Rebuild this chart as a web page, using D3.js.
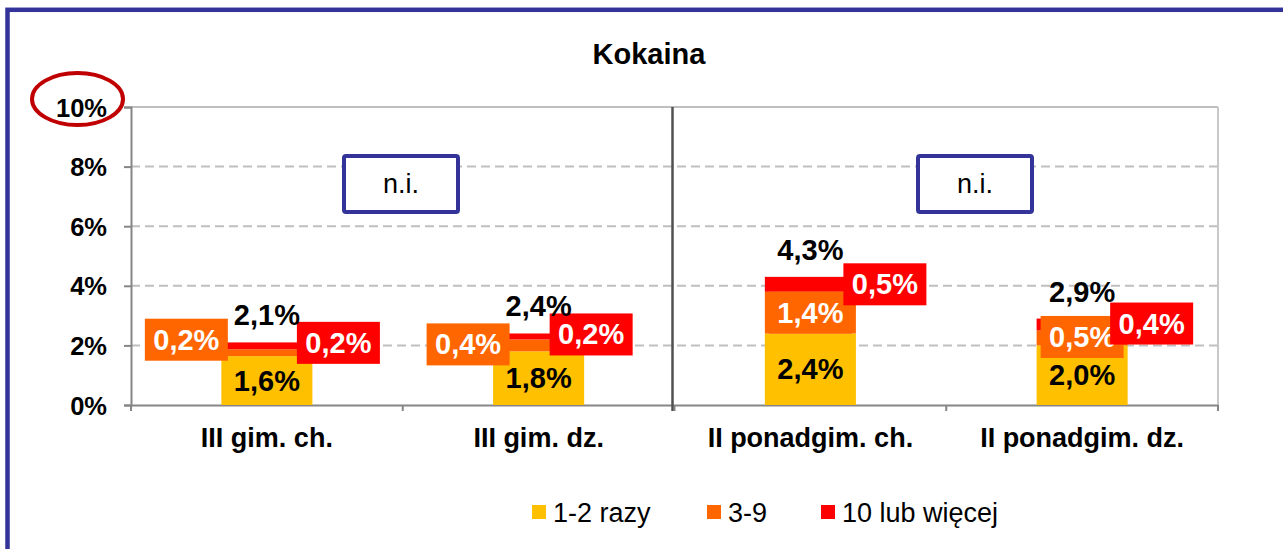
<!DOCTYPE html>
<html lang="pl">
<head>
<meta charset="utf-8">
<title>Kokaina</title>
<script src="https://cdn.jsdelivr.net/npm/d3@7"></script>
<style>
  html, body { margin: 0; padding: 0; background: #fff; }
  svg { display: block; }
  text { font-family: "Liberation Sans", Arial, sans-serif; }
</style>
</head>
<body>
<svg id="chart" width="1283" height="549"></svg>
<script>
// ---- data ----
const categories = ["III gim. ch.", "III gim. dz.", "II ponadgim. ch.", "II ponadgim. dz."];
const seriesNames = ["1-2 razy", "3-9", "10 lub więcej"];
const once12 = [1.64, 1.8, 2.4, 2.0];      // 1-2 razy
const times39 = [0.23, 0.4, 1.4, 0.5];     // 3-9
const times10 = [0.23, 0.2, 0.5, 0.4];     // 10 lub więcej
const yTicks = [0, 2, 4, 6, 8, 10];
const titleText = "Kokaina";
const noteText = "n.i.";

// ---- layout ----
const W = 1283, H = 549;
const plot = { left: 131, right: 1218, top: 107, bottom: 405 };
const colors = ["#FFC000", "#FF6600", "#FF0000"];
const frameBlue = "#333399";
const font = "'Liberation Sans', Arial, sans-serif";
// hand-placed data label boxes (relative to the bar / segment)
const midLabelPos = [
  { anchor: "left", dx: -35, dy: -13 },
  { anchor: "left", dx: -25, dy: -1 },
  { anchor: "mid", dx: 0, dy: 0 },
  { anchor: "mid", dx: 0, dy: -1 }
];
const topLabelPos = [
  { dx: 26, dy: -3 },
  { dx: 7, dy: -2 },
  { dx: 29, dy: 0 },
  { dx: 24, dy: -1 }
];
const noteBoxes = [{ cx: 401, cy: 184 }, { cx: 975, cy: 184 }];
const legendX = [532, 707, 821];

const svg = d3.select("#chart");

// rows for stacking
const rows = categories.map((c, i) => ({
  cat: c, s0: once12[i], s1: times39[i], s2: times10[i]
}));
const stack = d3.stack().keys(["s0", "s1", "s2"])(rows);

const xGroup = d3.scaleBand().domain(categories).range([plot.left, plot.right]);
const x = d3.scaleBand().domain(categories).range([plot.left, plot.right])
  .paddingInner(0.665).paddingOuter(0.3325);
const y = d3.scaleLinear().domain([0, 10]).range([plot.bottom, plot.top]);

const fmt = v => v.toFixed(1).replace(".", ",") + "%";

// outer frame
svg.append("rect")
  .attr("x", 7.5).attr("y", 9.8)
  .attr("width", W + 200).attr("height", H + 200)
  .attr("fill", "none").attr("stroke", frameBlue).attr("stroke-width", 4.5);

// title
svg.append("text")
  .attr("x", 649).attr("y", 54)
  .attr("text-anchor", "middle").attr("dominant-baseline", "central")
  .attr("font-size", 29).attr("font-weight", "bold").attr("fill", "#000")
  .text(titleText);

// gridlines
svg.append("g").selectAll("line")
  .data(yTicks.filter(d => d > 0))
  .join("line")
  .attr("x1", plot.left).attr("x2", plot.right)
  .attr("y1", d => y(d)).attr("y2", d => y(d))
  .attr("stroke", "#BFBFBF").attr("stroke-width", 2)
  .attr("stroke-dasharray", d => d === 10 ? null : "9,5");

// right plot border
svg.append("line")
  .attr("x1", plot.right).attr("x2", plot.right)
  .attr("y1", plot.top).attr("y2", plot.bottom)
  .attr("stroke", "#C8C8C8").attr("stroke-width", 2);

// y axis
const yAxis = svg.append("g")
  .attr("transform", `translate(${plot.left},0)`)
  .call(d3.axisLeft(y).tickValues(yTicks).tickFormat(d => d + "%").tickSize(7).tickPadding(17));
yAxis.select(".domain").attr("stroke", "#868686").attr("stroke-width", 2);
yAxis.selectAll(".tick line").attr("stroke", "#868686").attr("stroke-width", 2);
yAxis.selectAll(".tick text")
  .attr("font-family", font).attr("font-size", 25.5).attr("font-weight", "bold")
  .attr("fill", "#000").attr("dy", "0.36em");

// x axis
const xAxis = svg.append("g")
  .attr("transform", `translate(0,${plot.bottom})`)
  .call(d3.axisBottom(xGroup).tickSize(0).tickPadding(23));
xAxis.select(".domain").attr("stroke", "#868686").attr("stroke-width", 2);
xAxis.selectAll(".tick text")
  .attr("font-family", font).attr("font-size", 27).attr("font-weight", "bold")
  .attr("fill", "#000");
// category boundary ticks
const bounds = categories.map(c => xGroup(c)).concat([plot.right]);
svg.append("g").selectAll("line")
  .data(bounds)
  .join("line")
  .attr("x1", d => d).attr("x2", d => d)
  .attr("y1", plot.bottom).attr("y2", plot.bottom + 6)
  .attr("stroke", "#868686").attr("stroke-width", 2);

// divider between school levels
const divX = xGroup(categories[2]) - 2;
svg.append("line")
  .attr("x1", divX).attr("x2", divX)
  .attr("y1", plot.top).attr("y2", plot.bottom + 6)
  .attr("stroke", "#505050").attr("stroke-width", 2.5);

// bars
svg.append("g").selectAll("g")
  .data(stack)
  .join("g")
  .attr("fill", (d, i) => colors[i])
  .selectAll("rect")
  .data(d => d)
  .join("rect")
  .attr("x", d => x(d.data.cat))
  .attr("width", x.bandwidth())
  .attr("y", d => y(d[1]))
  .attr("height", d => y(d[0]) - y(d[1]));

// labels
const labels = svg.append("g").attr("font-family", font).attr("font-weight", "bold");
const boxW = 83, boxH = 42, labelSize = 29;

// bottom segment values, inside the bar
labels.selectAll("text.v0")
  .data(stack[0])
  .join("text")
  .attr("class", "v0")
  .attr("x", d => x(d.data.cat) + x.bandwidth() / 2)
  .attr("y", d => y((d[0] + d[1]) / 2))
  .attr("text-anchor", "middle").attr("dominant-baseline", "central")
  .attr("font-size", labelSize).attr("fill", "#000")
  .text(d => fmt(d[1] - d[0]));

// boxed labels for the middle and top segments
function boxedLabel(seriesIndex, posFn) {
  const g = labels.append("g").selectAll("g")
    .data(stack[seriesIndex])
    .join("g")
    .attr("transform", (d, i) => {
      const p = posFn(d, i);
      return `translate(${p.cx},${p.cy})`;
    });
  g.append("rect")
    .attr("x", -boxW / 2).attr("y", -boxH / 2)
    .attr("width", boxW).attr("height", boxH)
    .attr("fill", colors[seriesIndex]);
  g.append("text")
    .attr("text-anchor", "middle").attr("dominant-baseline", "central")
    .attr("font-size", labelSize).attr("fill", "#fff")
    .text(d => fmt(d[1] - d[0]));
}

boxedLabel(1, (d, i) => {
  const p = midLabelPos[i];
  const bx = x(d.data.cat);
  const cx = p.anchor === "left" ? bx + p.dx : bx + x.bandwidth() / 2 + p.dx;
  return { cx, cy: y((d[0] + d[1]) / 2) + p.dy };
});
boxedLabel(2, (d, i) => {
  const p = topLabelPos[i];
  return { cx: x(d.data.cat) + x.bandwidth() + p.dx, cy: y((d[0] + d[1]) / 2) + p.dy };
});

// totals above the bars
labels.selectAll("text.total")
  .data(stack[2])
  .join("text")
  .attr("class", "total")
  .attr("x", d => x(d.data.cat) + x.bandwidth() / 2)
  .attr("y", d => y(d[1]) - 27)
  .attr("text-anchor", "middle").attr("dominant-baseline", "central")
  .attr("font-size", labelSize).attr("fill", "#000")
  .text(d => fmt(d[1]));

// "n.i." boxes
const notes = svg.append("g").selectAll("g")
  .data(noteBoxes)
  .join("g")
  .attr("transform", d => `translate(${d.cx},${d.cy})`);
notes.append("rect")
  .attr("x", -57).attr("y", -28).attr("width", 114).attr("height", 56)
  .attr("rx", 2)
  .attr("fill", "#fff").attr("stroke", frameBlue).attr("stroke-width", 4);
notes.append("text")
  .attr("text-anchor", "middle").attr("dominant-baseline", "central")
  .attr("font-size", 27).attr("fill", "#000")
  .text(noteText);

// highlight ring around the top tick label
svg.append("ellipse")
  .attr("cx", 77.5).attr("cy", 99)
  .attr("rx", 45.5).attr("ry", 26)
  .attr("fill", "none").attr("stroke", "#C00000").attr("stroke-width", 4);

// legend
const legend = svg.append("g").selectAll("g")
  .data(seriesNames)
  .join("g")
  .attr("transform", (d, i) => `translate(${legendX[i]},505)`);
legend.append("rect")
  .attr("width", 14).attr("height", 14)
  .attr("fill", (d, i) => colors[i]);
legend.append("text")
  .attr("x", 21).attr("y", 8)
  .attr("dominant-baseline", "central")
  .attr("font-size", 27).attr("fill", "#000")
  .text(d => d);
</script>
</body>
</html>
